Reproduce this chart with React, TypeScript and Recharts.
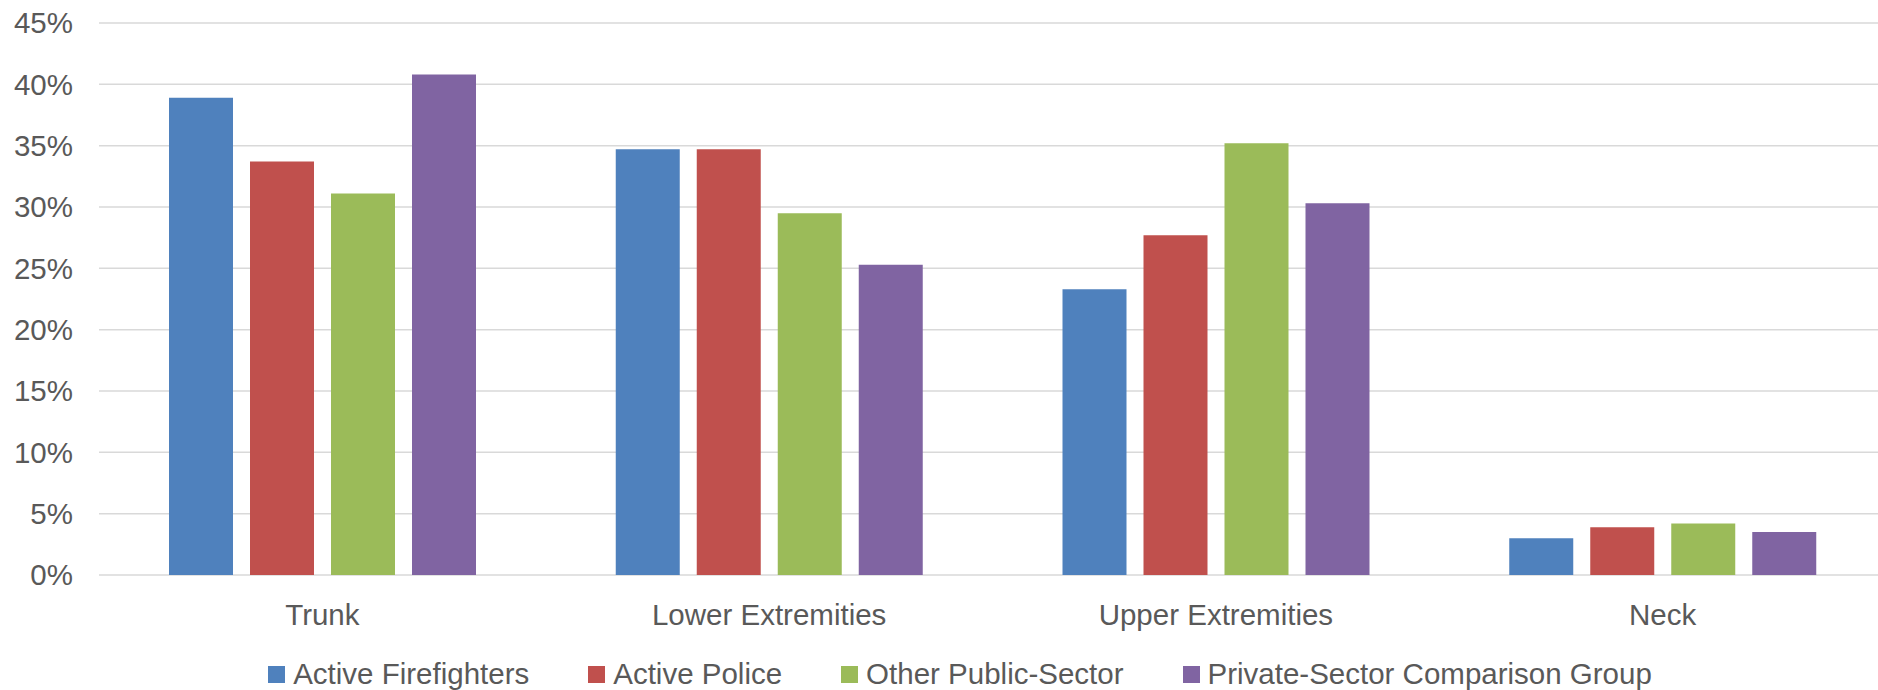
import { BarChart, Bar, XAxis, YAxis, CartesianGrid, Legend } from 'recharts';

const CATEGORIES = ['Trunk', 'Lower Extremities', 'Upper Extremities', 'Neck'];
const FIREFIGHTERS = [38.9, 34.7, 23.3, 3.0];
const POLICE = [33.7, 34.7, 27.7, 3.9];
const OTHER_PUBLIC = [31.1, 29.5, 35.2, 4.2];
const PRIVATE_SECTOR = [40.8, 25.3, 30.3, 3.5];
const Y_TICKS = [0, 5, 10, 15, 20, 25, 30, 35, 40, 45];

const SERIES = [
  { key: 'firefighters', name: 'Active Firefighters', values: FIREFIGHTERS, color: '#4F81BD' },
  { key: 'police', name: 'Active Police', values: POLICE, color: '#C0504D' },
  { key: 'otherPublic', name: 'Other Public-Sector', values: OTHER_PUBLIC, color: '#9BBB59' },
  { key: 'privateSector', name: 'Private-Sector Comparison Group', values: PRIVATE_SECTOR, color: '#8064A2' },
];

const data = CATEGORIES.map((name, i) => {
  const row: Record<string, string | number> = { name };
  SERIES.forEach((s) => {
    row[s.key] = s.values[i];
  });
  return row;
});

const FONT = '"Liberation Sans", Arial, sans-serif';
const TEXT_COLOR = '#595959';
const GRID_COLOR = '#d9d9d9';

// chart is a bit wider than the window; the reference crops the right edge of the plot
const CHART_W = 1886;
const CHART_H = 690;

function renderLegend() {
  return (
    <div
      style={{
        display: 'flex',
        justifyContent: 'center',
        alignItems: 'center',
        height: 32,
        paddingLeft: 34,
        gap: 59,
        fontSize: 29.5,
        color: TEXT_COLOR,
        fontFamily: FONT,
      }}
    >
      {SERIES.map((s) => (
        <div key={s.key} style={{ display: 'flex', alignItems: 'center' }}>
          <span style={{ width: 17, height: 17, background: s.color, marginRight: 8 }} />
          <span>{s.name}</span>
        </div>
      ))}
    </div>
  );
}

export default function App() {
  return (
    <div
      style={{
        position: 'fixed',
        left: 0,
        top: 0,
        width: 1878,
        height: 690,
        overflow: 'hidden',
        background: '#fff',
      }}
    >
      <BarChart
        width={CHART_W}
        height={CHART_H}
        data={data}
        margin={{ top: 23, right: 0, bottom: 0, left: 0 }}
        barSize={64}
        barGap={17}
      >
        <CartesianGrid vertical={false} stroke={GRID_COLOR} strokeWidth={1.5} />
        <XAxis
          dataKey="name"
          axisLine={false}
          tickLine={false}
          tickSize={0}
          tickMargin={29}
          height={83}
          interval={0}
          tick={{ fill: TEXT_COLOR, fontSize: 29.5, fontFamily: FONT }}
        />
        <YAxis
          width={99}
          domain={[0, 45]}
          ticks={Y_TICKS}
          axisLine={false}
          tickLine={false}
          tickSize={0}
          tickMargin={26}
          tickFormatter={(v: number) => `${v}%`}
          tick={{ fill: TEXT_COLOR, fontSize: 29.5, fontFamily: FONT }}
        />
        <Legend
          verticalAlign="bottom"
          height={32}
          content={renderLegend}
          wrapperStyle={{ left: 0, width: CHART_W }}
        />
        {SERIES.map((s) => (
          <Bar key={s.key} dataKey={s.key} name={s.name} fill={s.color} isAnimationActive={false} />
        ))}
      </BarChart>
    </div>
  );
}
